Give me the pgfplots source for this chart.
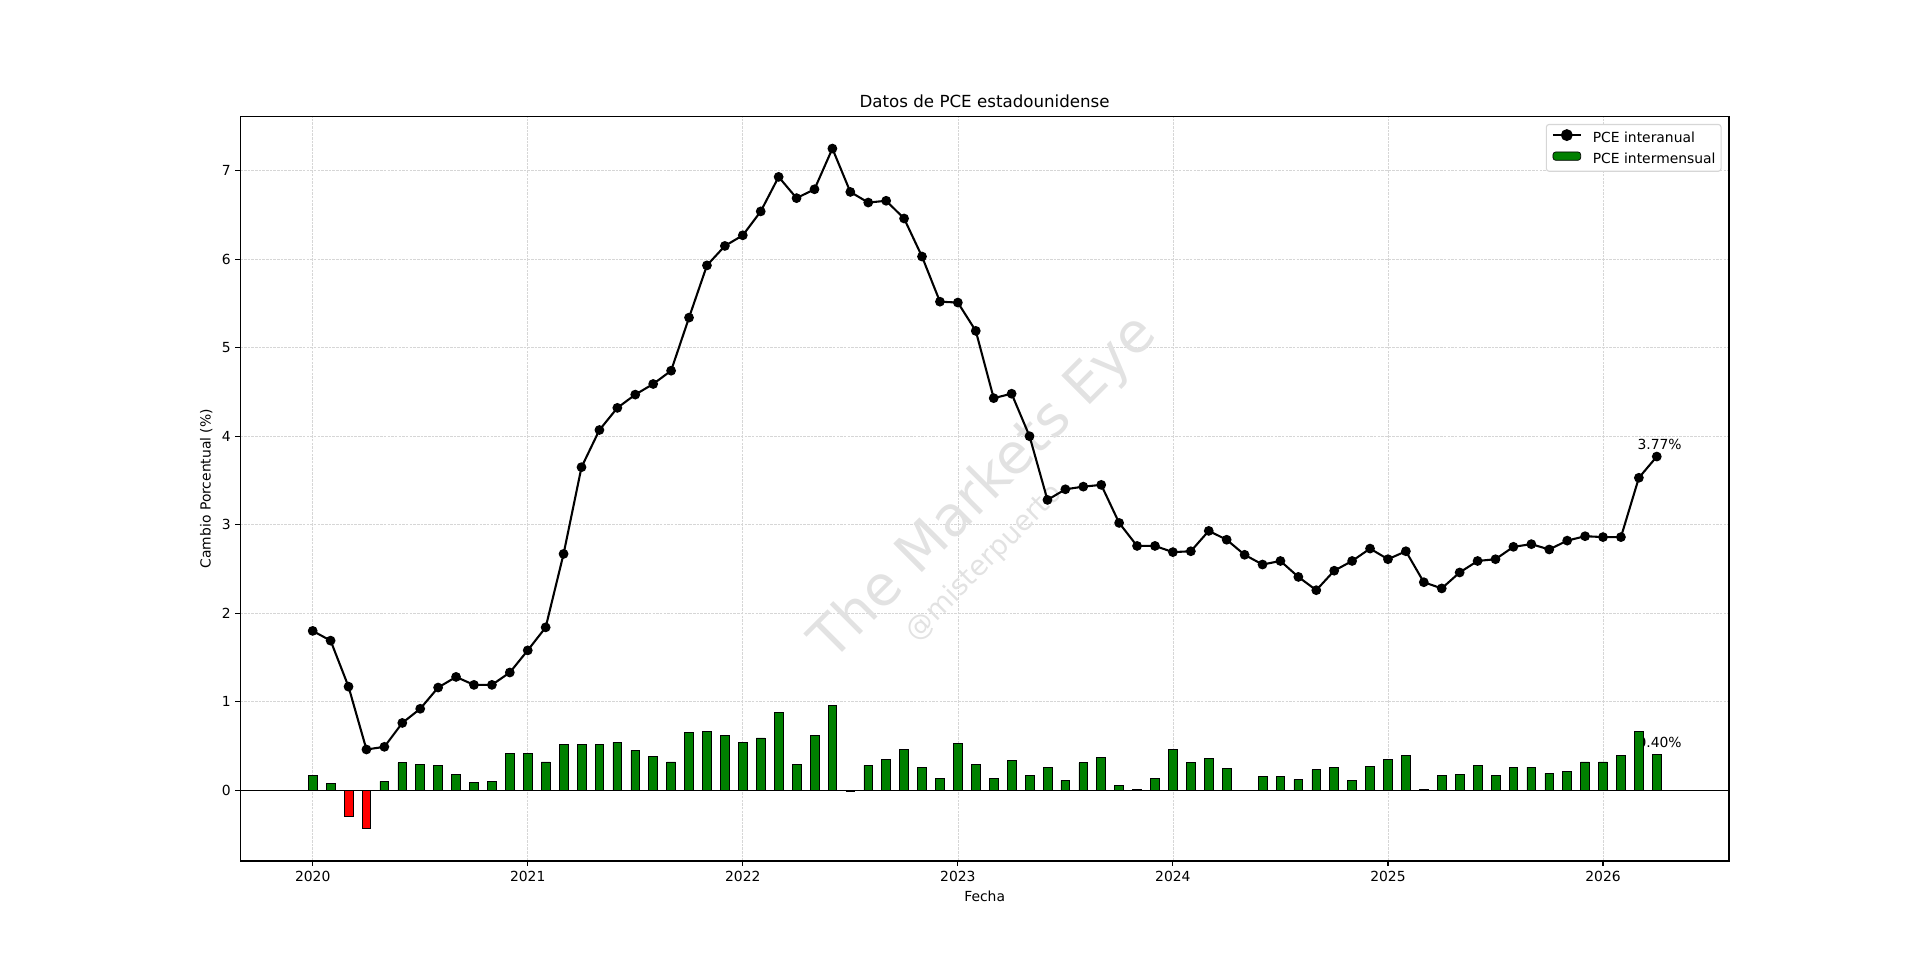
\documentclass[border=0pt]{standalone}
\usepackage{fontspec}
\setmainfont{DejaVu Sans}
\usepackage{pgfplots}
\usepackage{pgfplotstable}
\pgfplotsset{compat=1.18}
\definecolor{mgreen}{RGB}{0,128,0}
\definecolor{mred}{RGB}{255,0,0}
\definecolor{gridgray}{RGB}{214,214,214}
\definecolor{wm}{RGB}{226,226,226}
\definecolor{legedge}{RGB}{214,214,214}

% PCE year-over-year (%), month index 0 = Jan 2020
\pgfplotstableread{
m yoy
0 1.80
1 1.69
2 1.17
3 0.46
4 0.49
5 0.76
6 0.92
7 1.16
8 1.28
9 1.19
10 1.19
11 1.33
12 1.58
13 1.84
14 2.67
15 3.65
16 4.07
17 4.32
18 4.47
19 4.59
20 4.74
21 5.34
22 5.93
23 6.15
24 6.27
25 6.54
26 6.93
27 6.69
28 6.79
29 7.25
30 6.76
31 6.64
32 6.66
33 6.46
34 6.03
35 5.52
36 5.51
37 5.19
38 4.43
39 4.48
40 4.00
41 3.28
42 3.40
43 3.43
44 3.45
45 3.02
46 2.76
47 2.76
48 2.69
49 2.70
50 2.93
51 2.83
52 2.66
53 2.55
54 2.59
55 2.41
56 2.26
57 2.48
58 2.59
59 2.73
60 2.61
61 2.70
62 2.35
63 2.28
64 2.46
65 2.59
66 2.61
67 2.75
68 2.78
69 2.72
70 2.82
71 2.87
72 2.86
73 2.86
74 3.53
75 3.77
}\yoytable

% PCE month-over-month (%), non-negative months
\pgfplotstableread{
m mom
0 0.17
1 0.08
4 0.10
5 0.31
6 0.29
7 0.28
8 0.18
9 0.09
10 0.10
11 0.42
12 0.42
13 0.32
14 0.52
15 0.52
16 0.52
17 0.54
18 0.45
19 0.38
20 0.32
21 0.65
22 0.66
23 0.62
24 0.54
25 0.59
26 0.88
27 0.29
28 0.62
29 0.96
31 0.28
32 0.35
33 0.46
34 0.26
35 0.13
36 0.53
37 0.29
38 0.13
39 0.34
40 0.17
41 0.26
42 0.11
43 0.31
44 0.37
45 0.05
46 0.01
47 0.13
48 0.46
49 0.31
50 0.36
51 0.25
52 0.00
53 0.16
54 0.16
55 0.12
56 0.23
57 0.26
58 0.11
59 0.27
60 0.35
61 0.39
62 0.01
63 0.17
64 0.18
65 0.28
66 0.17
67 0.26
68 0.26
69 0.19
70 0.21
71 0.32
72 0.32
73 0.39
74 0.66
75 0.40
}\momposTable

% PCE month-over-month (%), negative months
\pgfplotstableread{
m mom
2 -0.30
3 -0.43
30 -0.01
}\momnegTable

\begin{document}
\begin{tikzpicture}[font=\fontsize{10bp}{12bp}\selectfont]
\useasboundingbox (0,0) rectangle (1382.4bp,696.24bp);
\begin{axis}[
  at={(173.0bp,76.32bp)}, anchor=south west,
  scale only axis, width=1071.9bp, height=536.2bp,
  xmin=-4.04, xmax=79.03, ymin=-0.80, ymax=7.615,
  xtick={0,12,24,36,48,60,72},
  xticklabels={2020,2021,2022,2023,2024,2025,2026},
  ytick={0,1,2,3,4,5,6,7},
  xtick pos=bottom, ytick pos=left,
  tick align=outside, major tick length=3.5bp,
  every tick/.style={black, line width=0.8bp},
  axis line style={line width=0.8bp},
  tick label style={font=\fontsize{10bp}{12bp}\selectfont},
  /pgf/number format/assume math mode=true,
  xticklabel style={anchor=base, inner sep=0pt, yshift=-11.4bp},
  yticklabel style={anchor=east, inner sep=0pt, xshift=-3.2bp},
  grid=major,
  major grid style={gridgray, dash pattern=on 1.85bp off 0.8bp, line width=0.5bp},
  clip=false,
  legend cell align=left,
  legend style={at={(1,1)}, anchor=north east, xshift=-5.3bp, yshift=-5.5bp,
    draw=legedge, rounded corners=2bp, fill=white, line width=0.8bp,
    inner xsep=4bp, inner ysep=3.4bp, row sep=4.4bp, column sep=8bp,
    font=\fontsize{10bp}{12bp}\selectfont,
    nodes={inner sep=0pt, text height=7.5bp, text depth=2.3bp}},
]
% watermark
\node[rotate=45, text=wm, font=\fontsize{40bp}{48bp}\selectfont] at (rel axis cs:0.5,0.5) {The Markets Eye};
\node[rotate=45, text=wm, font=\fontsize{20bp}{24bp}\selectfont] at (rel axis cs:0.5,0.4) {@misterpuerto};
% annotations
\node[anchor=base, xshift=2bp, yshift=5bp] at (axis cs:75,3.77) {3.77\%};
\node[anchor=base, xshift=2bp, yshift=5bp] at (axis cs:75,0.40) {0.40\%};

\addplot[black, line width=1.5bp, mark=*, mark size=3bp,
  mark options={solid, fill=black, draw=black, line width=1bp},
  legend image code/.code={\draw[black, line width=1.5bp] (0bp,2.6bp) -- (20bp,2.6bp); \fill[black] (10bp,2.6bp) circle (3.5bp);}]
  table[x=m, y=yoy] {\yoytable};
\addlegendentry{PCE interanual}

\addplot[ybar, bar width=0.49, bar shift=0pt, fill=mgreen, draw=black, line width=0.5bp,
  legend image code/.code={\draw[fill=mgreen, draw=black, line width=0.5bp] (0bp,-0.4bp) rectangle (20bp,5.6bp);}]
  table[x=m, y=mom] {\momposTable};
\addlegendentry{PCE intermensual}

\addplot[ybar, bar width=0.49, bar shift=0pt, fill=mred, draw=black, line width=0.5bp, forget plot]
  table[x=m, y=mom] {\momnegTable};

\draw[black, line width=0.8bp] (axis cs:-4.04,0) -- (axis cs:79.03,0);

% title and axis labels
\node[anchor=base, font=\fontsize{12bp}{14bp}\selectfont] at ([yshift=6bp]rel axis cs:0.5,1) {Datos de PCE estadounidense};
\node[anchor=base] at ([yshift=-29.3bp]rel axis cs:0.5,0) {Fecha};
\node[anchor=base, rotate=90] at ([xshift=-21.3bp]rel axis cs:0,0.5) {Cambio Porcentual (\%)};
\end{axis}
\end{tikzpicture}
\end{document}
